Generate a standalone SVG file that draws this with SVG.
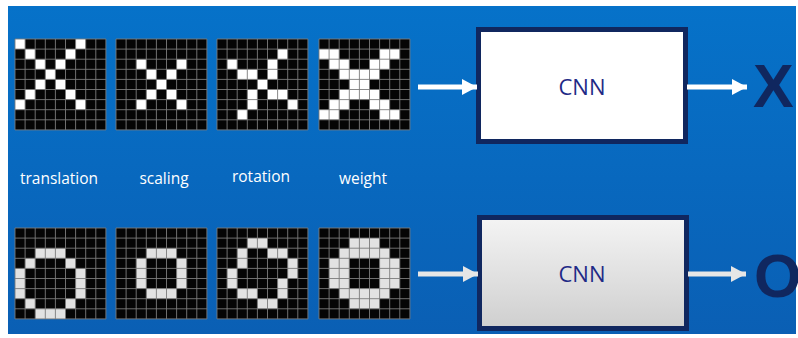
<svg xmlns="http://www.w3.org/2000/svg" xmlns:xlink="http://www.w3.org/1999/xlink" width="798" height="338" viewBox="0 0 798 338">
  <defs>
    <linearGradient id="bg" x1="0" y1="0" x2="0" y2="1">
      <stop offset="0" stop-color="#0672c9"/>
      <stop offset="1" stop-color="#0a5fb4"/>
    </linearGradient>
    <linearGradient id="boxGrey" x1="0" y1="0" x2="0" y2="1">
      <stop offset="0" stop-color="#f4f4f4"/>
      <stop offset="1" stop-color="#cfcfcf"/>
    </linearGradient>
    <!-- 9x9 cell grid lines, pitch 10.1 -->
    <path id="gridLines" d="M0 0V90.9M10.1 0V90.9M20.2 0V90.9M30.3 0V90.9M40.4 0V90.9M50.5 0V90.9M60.6 0V90.9M70.7 0V90.9M80.8 0V90.9M90.9 0V90.9M0 0H90.9M0 10.1H90.9M0 20.2H90.9M0 30.3H90.9M0 40.4H90.9M0 50.5H90.9M0 60.6H90.9M0 70.7H90.9M0 80.8H90.9M0 90.9H90.9"/>
    <rect id="gridBack" width="90.9" height="90.9"/>
    <marker id="headW" markerUnits="userSpaceOnUse" markerWidth="15" markerHeight="16" refX="15" refY="8" orient="auto">
      <path d="M0 0L15 8L0 16z" fill="#ffffff"/>
    </marker>
    <marker id="headG" markerUnits="userSpaceOnUse" markerWidth="15" markerHeight="16" refX="15" refY="8" orient="auto">
      <path d="M0 0L15 8L0 16z" fill="#e6e6e6"/>
    </marker>
  </defs>
  <style>
    .back { fill: #050505; }
    .lines { fill: none; stroke: #7c7c7c; stroke-width: 0.9; }
    .on { fill: #ffffff; }
    .onO { fill: #e2e2e2; }
    .label { font-family: "Open Sans", "Noto Sans", sans-serif; font-size: 15.5px; fill: #ffffff; text-anchor: middle; }
    .box { stroke: #10275f; stroke-width: 5; }
    .cnn { font-family: "Open Sans", "Noto Sans", sans-serif; font-size: 22px; fill: #1f2a86; text-anchor: middle; }
    .big { font-family: "Liberation Sans", Arial, sans-serif; font-weight: bold; font-size: 61px; fill: #10275f; }
    .arrow { stroke-width: 5; fill: none; }
  </style>

  <rect x="8" y="6" width="788" height="328" fill="url(#bg)"/>

  <!-- X inputs -->
  <g id="x-translation" transform="translate(15 39)">
    <use xlink:href="#gridBack" class="back"/>
    <path class="on" d="M0 0h10.1v10.1h-10.1zM60.6 0h10.1v10.1h-10.1zM10.1 10.1h10.1v10.1h-10.1zM50.5 10.1h10.1v10.1h-10.1zM20.2 20.2h10.1v10.1h-10.1zM40.4 20.2h10.1v10.1h-10.1zM30.3 30.3h10.1v10.1h-10.1zM20.2 40.4h10.1v10.1h-10.1zM40.4 40.4h10.1v10.1h-10.1zM10.1 50.5h10.1v10.1h-10.1zM50.5 50.5h10.1v10.1h-10.1zM0 60.6h10.1v10.1h-10.1zM60.6 60.6h10.1v10.1h-10.1z"/>
    <use xlink:href="#gridLines" class="lines"/>
  </g>
  <g id="x-scaling" transform="translate(116 39)">
    <use xlink:href="#gridBack" class="back"/>
    <path class="on" d="M20.2 20.2h10.1v10.1h-10.1zM60.6 20.2h10.1v10.1h-10.1zM30.3 30.3h10.1v10.1h-10.1zM50.5 30.3h10.1v10.1h-10.1zM40.4 40.4h10.1v10.1h-10.1zM30.3 50.5h10.1v10.1h-10.1zM50.5 50.5h10.1v10.1h-10.1zM20.2 60.6h10.1v10.1h-10.1zM60.6 60.6h10.1v10.1h-10.1z"/>
    <use xlink:href="#gridLines" class="lines"/>
  </g>
  <g id="x-rotation" transform="translate(217 39)">
    <use xlink:href="#gridBack" class="back"/>
    <path class="on" d="M60.6 10.1h10.1v10.1h-10.1zM10.1 20.2h10.1v10.1h-10.1zM50.5 20.2h10.1v10.1h-10.1zM20.2 30.3h20.2v10.1h-20.2zM50.5 30.3h10.1v10.1h-10.1zM40.4 40.4h10.1v10.1h-10.1zM30.3 50.5h10.1v10.1h-10.1zM50.5 50.5h20.2v10.1h-20.2zM30.3 60.6h10.1v10.1h-10.1zM70.7 60.6h10.1v10.1h-10.1zM20.2 70.7h10.1v10.1h-10.1z"/>
    <use xlink:href="#gridLines" class="lines"/>
  </g>
  <g id="x-weight" transform="translate(319 39)">
    <use xlink:href="#gridBack" class="back"/>
    <path class="on" d="M0 10.1h20.2v10.1h-20.2zM60.6 10.1h20.2v10.1h-20.2zM10.1 20.2h20.2v10.1h-20.2zM50.5 20.2h20.2v10.1h-20.2zM20.2 30.3h40.4v10.1h-40.4zM30.3 40.4h20.2v10.1h-20.2zM20.2 50.5h40.4v10.1h-40.4zM10.1 60.6h20.2v10.1h-20.2zM50.5 60.6h20.2v10.1h-20.2zM0 70.7h20.2v10.1h-20.2zM60.6 70.7h20.2v10.1h-20.2z"/>
    <use xlink:href="#gridLines" class="lines"/>
  </g>

  <!-- transformation labels -->
  <g id="labels">
    <text class="label" x="59" y="184">translation</text>
    <text class="label" x="164" y="184">scaling</text>
    <text class="label" x="261" y="182">rotation</text>
    <text class="label" x="363" y="184">weight</text>
  </g>

  <!-- O inputs -->
  <g id="o-translation" transform="translate(15 228)">
    <use xlink:href="#gridBack" class="back"/>
    <path class="onO" d="M20.2 20.2h30.3v10.1h-30.3zM10.1 30.3h10.1v10.1h-10.1zM50.5 30.3h10.1v10.1h-10.1zM0 40.4h10.1v30.3h-10.1zM60.6 40.4h10.1v30.3h-10.1zM10.1 70.7h10.1v10.1h-10.1zM50.5 70.7h10.1v10.1h-10.1zM20.2 80.8h30.3v10.1h-30.3z"/>
    <use xlink:href="#gridLines" class="lines"/>
  </g>
  <g id="o-scaling" transform="translate(116 228)">
    <use xlink:href="#gridBack" class="back"/>
    <path class="onO" d="M30.3 20.2h30.3v10.1h-30.3zM20.2 30.3h10.1v30.3h-10.1zM60.6 30.3h10.1v30.3h-10.1zM30.3 60.6h30.3v10.1h-30.3z"/>
    <use xlink:href="#gridLines" class="lines"/>
  </g>
  <g id="o-rotation" transform="translate(217 228)">
    <use xlink:href="#gridBack" class="back"/>
    <path class="onO" d="M30.3 10.1h20.2v10.1h-20.2zM20.2 20.2h10.1v20.2h-10.1zM50.5 20.2h20.2v10.1h-20.2zM70.7 30.3h10.1v20.2h-10.1zM10.1 40.4h10.1v20.2h-10.1zM60.6 50.5h10.1v20.2h-10.1zM20.2 60.6h20.2v10.1h-20.2zM40.4 70.7h20.2v10.1h-20.2z"/>
    <use xlink:href="#gridLines" class="lines"/>
  </g>
  <g id="o-weight" transform="translate(319 228)">
    <use xlink:href="#gridBack" class="back"/>
    <path class="onO" d="M30.3 10.1h30.3v10.1h-30.3zM20.2 20.2h50.5v10.1h-50.5zM10.1 30.3h20.2v30.3h-20.2zM60.6 30.3h20.2v30.3h-20.2zM20.2 60.6h50.5v10.1h-50.5zM30.3 70.7h30.3v10.1h-30.3z"/>
    <use xlink:href="#gridLines" class="lines"/>
  </g>

  <!-- classifiers -->
  <g id="cnn-top">
    <rect class="box" x="478.5" y="29.5" width="207" height="112" fill="#ffffff"/>
    <text class="cnn" x="582" y="95">CNN</text>
  </g>
  <g id="cnn-bottom">
    <rect class="box" x="479.5" y="217.5" width="207" height="111" fill="url(#boxGrey)"/>
    <text class="cnn" x="582" y="282">CNN</text>
  </g>

  <!-- outputs -->
  <g id="out-x"><text class="big" x="753" y="107">X</text></g>
  <g id="out-o"><text class="big" x="754" y="297">O</text></g>

  <!-- connectors -->
  <g id="connectors">
    <line class="arrow" x1="418" y1="87" x2="477" y2="87" stroke="#ffffff" marker-end="url(#headW)"/>
    <line class="arrow" x1="687" y1="87" x2="747" y2="87" stroke="#ffffff" marker-end="url(#headW)"/>
    <line class="arrow" x1="418" y1="274" x2="478" y2="274" stroke="#e6e6e6" marker-end="url(#headG)"/>
    <line class="arrow" x1="688" y1="274" x2="746" y2="274" stroke="#e6e6e6" marker-end="url(#headG)"/>
  </g>
</svg>
